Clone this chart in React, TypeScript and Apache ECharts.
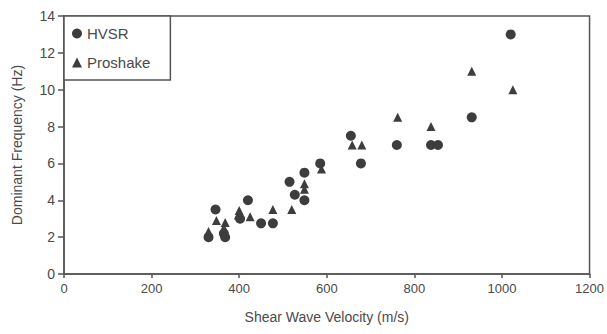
import React, { useEffect, useRef } from "react";
import * as echarts from "echarts";

const hvsrVelocity = [330, 346, 365, 368, 402, 420, 450, 477, 515, 527, 549, 549, 585, 655, 678, 760, 838, 854, 931, 1020];
const hvsrFrequency = [2.0, 3.5, 2.2, 2.0, 3.0, 4.0, 2.75, 2.75, 5.0, 4.3, 5.5, 4.0, 6.0, 7.5, 6.0, 7.0, 7.0, 7.0, 8.5, 13.0];

const proshakeVelocity = [330, 348, 368, 365, 398, 400, 425, 477, 520, 549, 549, 588, 658, 680, 762, 838, 931, 1025];
const proshakeFrequency = [2.3, 2.9, 2.8, 2.5, 3.2, 3.45, 3.1, 3.5, 3.5, 4.9, 4.6, 5.7, 7.0, 7.0, 8.5, 8.0, 11.0, 10.0];

const xTicks = { min: 0, max: 1200, interval: 200 };
const yTicks = { min: 0, max: 14, interval: 2 };

const FONT = "Liberation Sans";
const TEXT = "#4a4a4a";
const MARK = "#3d3d3d";
const LINE = "#555555";

export default function App() {
  const ref = useRef<HTMLDivElement>(null);
  useEffect(() => {
    if (!ref.current) return;
    const chart = echarts.init(ref.current, undefined, { renderer: "svg" });
    const hvsr = hvsrVelocity.map((v, i) => [v, hvsrFrequency[i]]);
    const pro = proshakeVelocity.map((v, i) => [v, proshakeFrequency[i]]);
    chart.setOption({
      animation: false,
      backgroundColor: "#ffffff",
      textStyle: { fontFamily: FONT },
      grid: {
        left: 64,
        right: 14,
        top: 16,
        bottom: 60,
        show: true,
        borderColor: LINE,
        borderWidth: 1.5,
      },
      legend: {
        left: 64,
        top: 16,
        orient: "vertical",
        backgroundColor: "#ffffff",
        borderColor: LINE,
        borderWidth: 1.5,
        borderRadius: 0,
        padding: [10, 20, 10, 8],
        itemGap: 14,
        itemWidth: 10,
        itemHeight: 10,
        textStyle: { fontFamily: FONT, fontSize: 15, color: TEXT },
        data: [
          { name: "HVSR", icon: "circle" },
          { name: "Proshake", icon: "triangle" },
        ],
      },
      xAxis: {
        type: "value",
        min: xTicks.min,
        max: xTicks.max,
        interval: xTicks.interval,
        name: "Shear Wave Velocity (m/s)",
        nameLocation: "middle",
        nameGap: 36,
        nameTextStyle: { fontFamily: FONT, fontSize: 14, color: TEXT },
        axisLine: { show: true, lineStyle: { color: LINE, width: 1.5 } },
        axisTick: { show: true, length: 4, lineStyle: { color: LINE, width: 1.5 } },
        axisLabel: {
          fontFamily: FONT,
          fontSize: 13,
          color: TEXT,
          margin: 8,
          formatter: (v: number) => String(v),
        },
        splitLine: { show: false },
      },
      yAxis: {
        type: "value",
        min: yTicks.min,
        max: yTicks.max,
        interval: yTicks.interval,
        name: "Dominant Frequency (Hz)",
        nameLocation: "middle",
        nameGap: 40,
        nameTextStyle: { fontFamily: FONT, fontSize: 14, color: TEXT },
        axisLine: { show: true, lineStyle: { color: LINE, width: 1.5 } },
        axisTick: { show: true, length: 6, lineStyle: { color: LINE, width: 1.5 } },
        axisLabel: { fontFamily: FONT, fontSize: 14, color: TEXT, margin: 9 },
        splitLine: { show: false },
      },
      series: [
        {
          name: "HVSR",
          type: "scatter",
          symbol: "circle",
          symbolSize: 10,
          itemStyle: { color: MARK, opacity: 1 },
          data: hvsr,
        },
        {
          name: "Proshake",
          type: "scatter",
          symbol: "triangle",
          symbolSize: 9,
          itemStyle: { color: MARK, opacity: 1 },
          data: pro,
        },
      ],
    });
    return () => chart.dispose();
  }, []);
  return (
    <div
      ref={ref}
      style={{ position: "fixed", left: 0, top: 0, width: 607, height: 334, overflow: "visible" }}
    />
  );
}
